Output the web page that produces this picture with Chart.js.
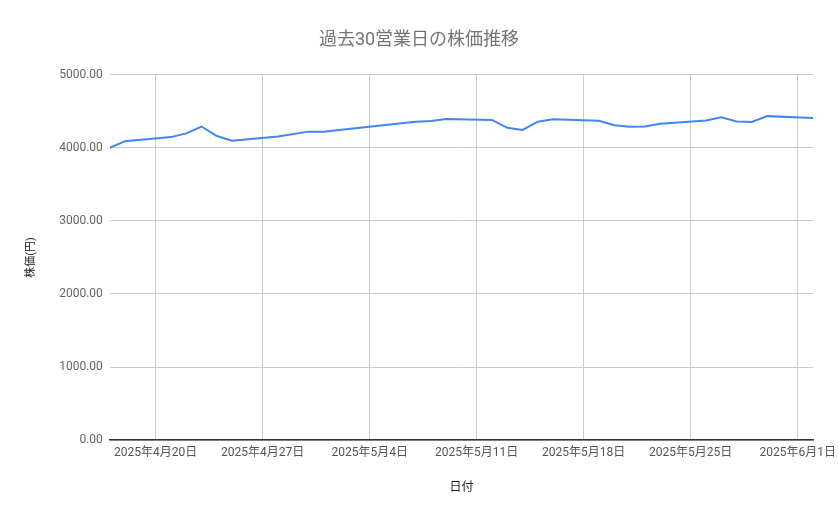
<!DOCTYPE html>
<html lang="ja">
<head>
    <meta charset="UTF-8">
    <title>過去30営業日の株価推移</title>
    <script src="https://cdn.jsdelivr.net/npm/chart.js"></script>
    <style>
        html, body { margin: 0; padding: 0; background: #fff; }
        #wrap { width: 839px; height: 519px; }
    </style>
</head>
<body>
    <div id="wrap"><canvas id="price-chart"></canvas></div>

    <script>
        // 営業日 (Golden Week holidays excluded)
        const dates = [
            '2025-04-17', '2025-04-18', '2025-04-21', '2025-04-22', '2025-04-23',
            '2025-04-24', '2025-04-25', '2025-04-28', '2025-04-30', '2025-05-01',
            '2025-05-02', '2025-05-07', '2025-05-08', '2025-05-09', '2025-05-12',
            '2025-05-13', '2025-05-14', '2025-05-15', '2025-05-16', '2025-05-19',
            '2025-05-20', '2025-05-21', '2025-05-22', '2025-05-23', '2025-05-26',
            '2025-05-27', '2025-05-28', '2025-05-29', '2025-05-30', '2025-06-02'
        ];
        const prices = [
            4000, 4090, 4145, 4196, 4290,
            4160, 4097, 4155, 4220, 4220,
            4243, 4355, 4364, 4392, 4380,
            4272, 4243, 4356, 4388, 4368,
            4308, 4286, 4289, 4327, 4372,
            4416, 4360, 4352, 4432, 4405
        ];
        const tickDates = ['2025-04-20', '2025-04-27', '2025-05-04', '2025-05-11', '2025-05-18', '2025-05-25', '2025-06-01'];
        const tickLabels = ['2025年4月20日', '2025年4月27日', '2025年5月4日', '2025年5月11日', '2025年5月18日', '2025年5月25日', '2025年6月1日'];
        const yTicks = [0, 1000, 2000, 3000, 4000, 5000];
        const rangeStart = '2025-04-17';
        const rangeEnd = '2025-06-02';

        // day number counted from 2025-04-20
        const base = Date.UTC(2025, 3, 20);
        const dayNum = s => {
            const [y, m, d] = s.split('-').map(Number);
            return (Date.UTC(y, m - 1, d) - base) / 86400000;
        };
        const tickValues = tickDates.map(dayNum);

        const font = "Roboto, 'Noto Sans CJK JP', sans-serif";

        new Chart(document.getElementById('price-chart'), {
            type: 'line',
            data: {
                datasets: [{
                    label: '株価',
                    data: dates.map((d, i) => ({ x: dayNum(d), y: prices[i] })),
                    borderColor: '#4285f4',
                    borderWidth: 2,
                    pointRadius: 0,
                    tension: 0,
                    fill: false
                }]
            },
            options: {
                responsive: true,
                maintainAspectRatio: false,
                animation: false,
                layout: { padding: { left: 25, right: 26, top: 0, bottom: 24 } },
                plugins: {
                    legend: { display: false },
                    tooltip: { enabled: false },
                    title: {
                        display: true,
                        text: '過去30営業日の株価推移',
                        color: '#757575',
                        font: { family: font, size: 18, weight: 'normal' },
                        padding: { top: 30, bottom: 23 }
                    }
                },
                scales: {
                    x: {
                        type: 'linear',
                        min: dayNum(rangeStart),
                        max: dayNum(rangeEnd),
                        afterBuildTicks: scale => {
                            scale.ticks = tickValues.map(v => ({ value: v }));
                        },
                        // let the last label run into the right margin like the original
                        afterFit: scale => {
                            scale.paddingRight = 0;
                        },
                        ticks: {
                            autoSkip: false,
                            maxRotation: 0,
                            padding: 6,
                            color: '#555',
                            font: { family: font, size: 12 },
                            callback: v => tickLabels[tickValues.indexOf(v)]
                        },
                        grid: { color: '#cccccc', drawTicks: false },
                        border: { color: '#333333', width: 1.5 },
                        title: {
                            display: true,
                            text: '日付',
                            color: '#222',
                            font: { family: font, size: 12 },
                            padding: { top: 14, bottom: 0 }
                        }
                    },
                    y: {
                        min: 0,
                        max: 5000,
                        afterBuildTicks: scale => {
                            scale.ticks = yTicks.map(v => ({ value: v }));
                        },
                        ticks: {
                            padding: 7,
                            color: '#666',
                            font: { family: font, size: 12 },
                            callback: v => v.toFixed(2)
                        },
                        grid: { color: '#cccccc', drawTicks: false },
                        border: { display: false },
                        title: {
                            display: true,
                            text: '株価(円)',
                            color: '#222',
                            font: { family: font, size: 11 },
                            padding: { top: 0, bottom: 14 }
                        }
                    }
                }
            }
        });
    </script>
</body>
</html>
